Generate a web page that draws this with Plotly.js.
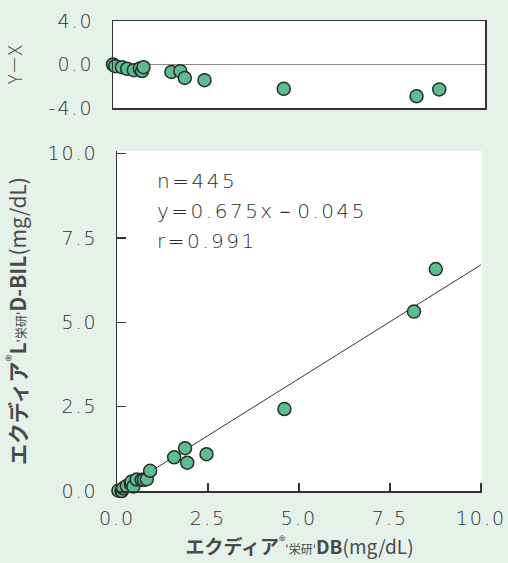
<!DOCTYPE html>
<html><head><meta charset="utf-8">
<script src="https://cdn.plot.ly/plotly-3.0.1.min.js"></script>
<style>html,body{margin:0;padding:0;background:#e5f2ea;}#chart{width:508px;height:563px;}</style>
</head><body><div id="chart"></div>
<script>
// Main scatter: x = エクディア DB, y = エクディアL D-BIL (mg/dL)
const xMain = [0.04, 0.13, 0.17, 0.27, 0.38, 0.40, 0.45, 0.54, 0.68, 0.74, 0.82, 0.91, 1.57, 1.87, 1.93, 2.46, 4.60, 8.16, 8.76];
const yMain = [0.01, 0.00, 0.08, 0.15, 0.21, 0.28, 0.13, 0.34, 0.33, 0.33, 0.35, 0.60, 1.00, 1.27, 0.84, 1.09, 2.43, 5.32, 6.58];
// Difference plot (Y − X)
const xDiff = [0.00, 0.06, 0.24, 0.38, 0.56, 0.72, 0.78, 0.82, 1.57, 1.81, 1.93, 2.46, 4.59, 8.16, 8.77];
const yDiff = [0.00, -0.16, -0.25, -0.40, -0.52, -0.37, -0.60, -0.25, -0.68, -0.61, -1.23, -1.44, -2.24, -2.91, -2.29];
// Regression line y = 0.675x − 0.045
const slope = 0.675, intercept = -0.045;
const lineX = [0, 10];
const mainTicks = [0, 2.5, 5, 7.5, 10];
const mainTickText = ['0.0', '2.5', '5.0', '7.5', '10.0'];
const diffTicks = [-4, 0, 4];
const diffTickText = ['-4.0', '0.0', '4.0'];
const statLines = ['n=445', 'y=0.675x－0.045', 'r=0.991'];

const NUMFONT = '"DejaVu Sans", sans-serif';
const JPFONT = '"Noto Sans CJK JP", "Noto Sans", sans-serif';
const TXT = '#4a4a4a';
const NUMTXT = '#2e2e2e';
const wide = (t, ls) => '<span style="letter-spacing:' + ls + 'px">' + t + '</span>';
const marker = {size: 13, color: '#5bbe8e', line: {color: '#2b2b2b', width: 1.5}};

const traces = [
  {x: lineX, y: lineX.map(v => slope * v + intercept), mode: 'lines', line: {color: '#333', width: 1}, xaxis: 'x', yaxis: 'y', hoverinfo: 'skip', cliponaxis: true},
  {x: xMain, y: yMain, mode: 'markers', marker: marker, xaxis: 'x', yaxis: 'y', cliponaxis: false},
  {x: xDiff, y: yDiff, mode: 'markers', marker: marker, xaxis: 'x2', yaxis: 'y2', cliponaxis: false}
];

const W = 508, H = 563;
const tickFont = {size: 19, color: NUMTXT, family: NUMFONT, weight: 200};
const layout = {
  width: W, height: H,
  margin: {l: 0, r: 0, t: 0, b: 0},
  paper_bgcolor: '#e5f2ea',
  plot_bgcolor: '#ffffff',
  showlegend: false,
  font: {family: JPFONT, color: TXT},
  xaxis: {
    domain: [117 / W, 482 / W], range: [0, 10.03], anchor: 'y',
    tickvals: mainTicks, ticktext: mainTickText.map(t => wide(t, 2)),
    ticks: 'inside', ticklen: 8, tickwidth: 1.2, tickcolor: '#333',
    showline: true, linecolor: '#333', linewidth: 1.5, mirror: false,
    showgrid: false, zeroline: false,
    tickfont: tickFont, ticklabelstandoff: 10,
    title: {text: '<b>エクディア</b><sup>®</sup><span style="font-size:12px">\'栄研\'</span><b>DB</b>(mg/dL)', font: {size: 19, color: TXT, family: JPFONT}, standoff: 12}
  },
  yaxis: {
    domain: [1 - 491 / H, 1 - 151 / H], range: [0, 10.08], anchor: 'x',
    tickvals: mainTicks, ticktext: mainTickText.map(t => wide(t, 2)),
    ticks: 'inside', ticklen: 9, tickwidth: 1.2, tickcolor: '#333',
    showline: true, linecolor: '#333', linewidth: 1.5, mirror: false,
    showgrid: false, zeroline: false,
    tickfont: tickFont, ticklabelstandoff: 14,
    title: {text: '<b>エクディア</b><sup>®</sup><b>L</b><span style="font-size:12px">\'栄研\'</span><b>D-BIL</b>(mg/dL)', font: {size: 21, color: TXT, family: JPFONT}, standoff: 18}
  },
  xaxis2: {
    domain: [113 / W, 485 / W], range: [0, 10], anchor: 'y2',
    showticklabels: false, ticks: '',
    showline: true, linecolor: '#333', linewidth: 1.5, mirror: true,
    showgrid: false, zeroline: false
  },
  yaxis2: {
    domain: [1 - 108 / H, 1 - 21 / H], range: [-4, 4], anchor: 'x2',
    tickvals: diffTicks, ticktext: diffTickText.map(t => wide(t, 2)), ticks: '',
    showline: true, linecolor: '#333', linewidth: 1.5, mirror: true,
    showgrid: false, zeroline: true, zerolinecolor: '#888', zerolinewidth: 1.2,
    tickfont: tickFont, ticklabelstandoff: 14,
    title: {text: 'Y－X', font: {size: 19, color: '#555', family: JPFONT, weight: 300}, standoff: 22}
  },
  annotations: statLines.map((t, i) => ({
    text: wide(t, 2.5), xref: 'x', yref: 'y', x: 1.04, y: 9.2 - i * 0.9,
    xanchor: 'left', yanchor: 'middle', showarrow: false,
    font: {size: 20, color: NUMTXT, family: NUMFONT, weight: 200}
  }))
};

Plotly.newPlot('chart', traces, layout, {staticPlot: true, displayModeBar: false});
</script>
</body></html>
